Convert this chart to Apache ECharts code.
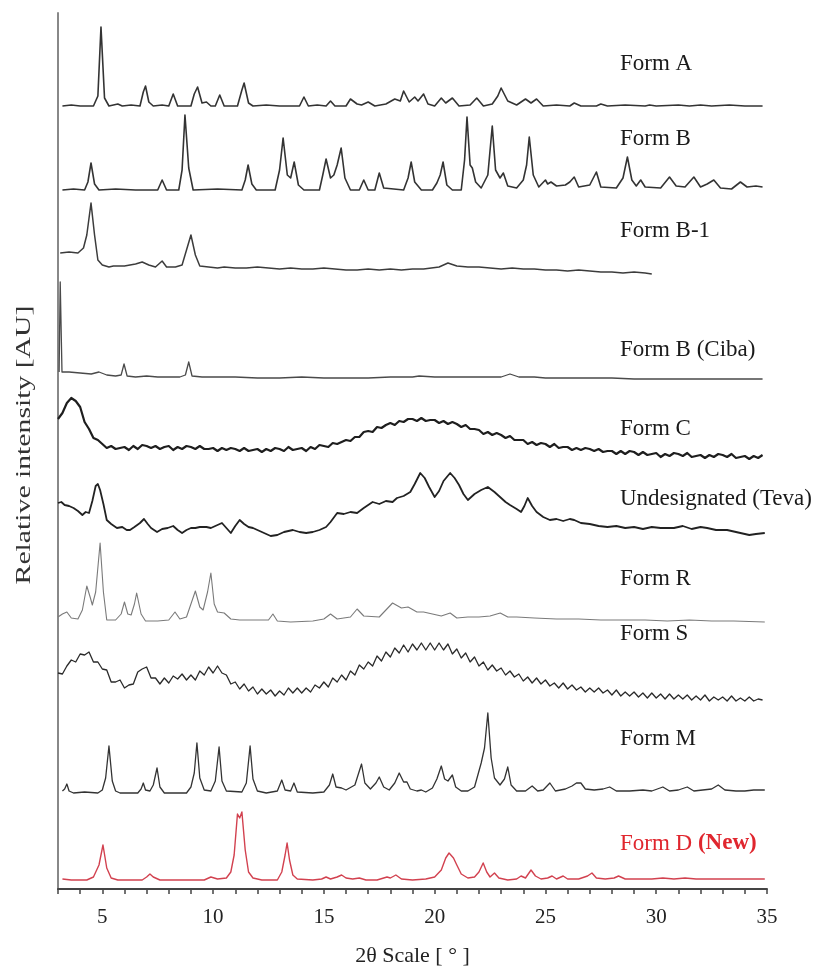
<!DOCTYPE html>
<html>
<head>
<meta charset="utf-8">
<script src="https://cdn.jsdelivr.net/npm/echarts@6/dist/echarts.min.js"></script>
<style>
html,body{margin:0;padding:0;background:#fff;}
#chart{width:817px;height:973px;}
</style>
</head>
<body>
<div id="chart"></div>
<script>
// ---- DATA (2θ in degrees, intensity in relative units above each pattern's baseline) ----
const patternNames = ["Form A","Form B","Form B-1","Form B (Ciba)","Form C","Undesignated (Teva)","Form R","Form S","Form M","Form D (New)"];
const baselineOffsets = [783, 699, 619, 511, 432, 353, 267, 188, 96, 9];
const xTickLabels = [5, 10, 15, 20, 25, 30, 35];

const formA = [[3.2,0],[3.6,1],[4.0,0],[4.6,0],[4.8,10],[4.94,79],[5.1,8],[5.3,0],[5.7,2],[5.9,0],[6.3,1],[6.7,0],[6.85,14],[6.95,20],[7.1,4],[7.3,0],[7.7,1],[8.0,0],[8.2,12],[8.4,0],[9.0,0],[9.15,12],[9.3,19],[9.5,3],[9.7,4],[9.9,0],[10.1,0],[10.3,11],[10.5,0],[11.1,0],[11.3,16],[11.4,23],[11.6,3],[11.8,0],[12.4,1],[13.0,0],[13.9,0],[14.1,9],[14.3,0],[14.7,1],[15.1,0],[15.3,5],[15.5,0],[16.0,0],[16.2,7],[16.5,2],[16.7,1],[17.0,4],[17.3,0],[17.8,2],[18.2,7],[18.45,5],[18.6,15],[18.85,4],[19.1,9],[19.25,5],[19.5,12],[19.7,2],[20.0,0],[20.3,8],[20.5,3],[20.8,8],[21.1,0],[21.6,1],[21.9,8],[22.2,0],[22.6,2],[22.85,10],[23.0,18],[23.3,5],[23.7,1],[24.1,7],[24.35,3],[24.6,7],[24.9,0],[25.5,1],[26.1,0],[26.3,3],[26.6,0],[27.3,0],[27.5,2],[27.8,0],[28.6,1],[29.5,0],[29.7,1],[30.0,0],[31.0,1],[31.5,0],[32.0,1],[32.5,0],[33.3,1],[34.0,0],[34.8,0]];

const formB = [[3.2,0],[3.7,1],[4.2,0],[4.35,8],[4.49,27],[4.65,6],[4.85,0],[5.6,1],[6.5,0],[7.5,0],[7.7,10],[7.9,0],[8.45,0],[8.6,20],[8.73,75],[8.9,22],[9.1,0],[10.2,1],[11.3,0],[11.45,10],[11.58,25],[11.75,6],[11.95,0],[12.8,0],[13.0,20],[13.16,52],[13.35,15],[13.5,12],[13.66,28],[13.85,5],[14.1,0],[14.8,0],[14.95,15],[15.1,31],[15.3,12],[15.45,15],[15.6,25],[15.78,42],[15.95,12],[16.2,0],[16.6,0],[16.8,10],[17.0,0],[17.3,0],[17.5,17],[17.7,2],[18.6,0],[18.8,12],[18.94,28],[19.1,8],[19.4,0],[19.9,0],[20.1,7],[20.25,15],[20.38,28],[20.55,5],[20.8,0],[21.2,0],[21.35,30],[21.46,73],[21.6,25],[21.7,22],[21.85,8],[22.1,2],[22.4,15],[22.6,64],[22.75,20],[22.95,12],[23.1,17],[23.3,4],[23.7,2],[24.0,10],[24.15,25],[24.27,53],[24.45,15],[24.7,3],[25.0,10],[25.1,6],[25.25,8],[25.5,4],[25.9,5],[26.1,8],[26.3,13],[26.5,3],[27.0,5],[27.3,18],[27.5,3],[28.2,2],[28.5,12],[28.7,33],[28.9,10],[29.1,4],[29.3,10],[29.5,3],[30.2,2],[30.6,13],[30.9,4],[31.3,3],[31.7,13],[32.0,3],[32.3,6],[32.6,10],[32.9,2],[33.4,1],[33.8,8],[34.1,3],[34.5,4],[34.8,3]];

const formB1 = [[3.1,17],[3.5,18],[3.9,17],[4.15,22],[4.3,35],[4.49,67],[4.65,35],[4.8,10],[5.0,5],[5.3,3],[5.5,4],[6.0,4],[6.5,6],[6.8,8],[7.1,5],[7.4,3],[7.7,9],[7.9,3],[8.3,3],[8.6,5],[8.8,20],[9.0,35],[9.2,15],[9.4,4],[9.8,3],[10.2,2],[10.5,3],[11.0,2],[11.5,2],[12.0,3],[12.5,2],[13.0,1],[13.5,2],[14.0,1],[14.5,1],[15.0,2],[15.5,1],[16.0,0],[16.5,0],[17.0,1],[17.5,0],[18.0,1],[18.5,0],[19.0,1],[19.5,1],[20.2,3],[20.6,7],[21.0,4],[21.5,3],[22.0,3],[22.5,2],[23.0,1],[23.5,2],[24.0,1],[24.5,1],[25.0,0],[25.5,0],[26.0,-1],[26.5,0],[27.0,-1],[27.5,-2],[28.0,-2],[28.5,-3],[29.0,-2],[29.5,-3],[29.8,-4]];

const formBCiba = [[3.05,6],[3.1,96],[3.18,6],[3.5,6],[4.0,5],[4.5,4],[4.85,6],[5.2,3],[5.6,2],[5.85,3],[5.98,14],[6.12,2],[6.5,1],[7.0,2],[7.5,1],[8.0,1],[8.5,1],[8.75,3],[8.9,16],[9.05,2],[9.5,1],[10.0,1],[11.0,1],[12.0,0],[13.0,0],[14.0,1],[15.0,0],[16.0,0],[17.0,0],[18.0,1],[19.0,1],[19.3,2],[20.0,1],[21.0,1],[22.0,1],[23.0,1],[23.4,4],[23.8,1],[24.5,1],[25.0,0],[26.0,0],[27.0,0],[28.0,0],[29.0,-1],[30.0,-1],[31.0,-1],[32.0,-1],[33.0,-1],[34.0,-1],[34.8,-1]];

// Form C: sampled every 0.2° starting at 3.0°
const formCStart = 3.0, formCStep = 0.2;
const formC = [38,44,54,59,56,50,35,28,19,17, 13,9,11,8,9,10,7,11,8,12, 11,9,11,8,10,11,7,10,8,11, 10,8,11,8,8,9,6,9,7,9, 8,6,9,6,7,8,5,8,6,9, 8,6,10,7,8,9,6,10,8,12, 11,10,14,13,15,17,16,20,20,25, 26,25,30,29,32,34,32,36,35,38, 38,36,39,36,37,37,34,36,33,35, 33,30,32,28,28,27,23,25,22,24, 22,19,21,17,17,17,13,15,12,14, 13,10,13,9,10,10,7,9,7,9, 8,6,8,5,6,6,3,6,3,6, 5,2,5,2,3,4,0,3,1,4, 3,1,4,0,1,2,-1,2,0,3, 2,0,3,-1,0,1,-2,1,-1,2];

const formTeva = [[3.0,33],[3.15,34],[3.3,31],[3.5,30],[3.7,28],[3.9,25],[4.1,21],[4.25,24],[4.4,23],[4.55,35],[4.7,50],[4.8,52],[4.9,46],[5.05,32],[5.2,16],[5.4,12],[5.66,8],[5.9,9],[6.1,6],[6.25,6],[6.45,9],[6.7,13],[6.88,17],[7.05,12],[7.2,8],[7.47,4],[7.7,7],[7.95,8],[8.2,10],[8.4,6],[8.6,3],[8.8,6],[9.0,8],[9.2,8],[9.4,9],[9.7,9],[9.9,8],[10.1,10],[10.4,13],[10.6,8],[10.8,3],[11.0,10],[11.2,16],[11.4,12],[11.6,9],[11.8,8],[12.1,5],[12.4,2],[12.6,0],[12.9,1],[13.2,4],[13.6,6],[13.9,4],[14.2,3],[14.5,4],[14.8,6],[15.1,9],[15.3,14],[15.5,20],[15.6,23],[15.9,22],[16.2,24],[16.5,23],[16.8,28],[17.0,31],[17.2,34],[17.5,32],[17.8,35],[18.1,34],[18.3,38],[18.6,40],[18.9,44],[19.1,52],[19.35,63],[19.55,58],[19.75,49],[20.0,39],[20.2,45],[20.4,55],[20.7,63],[20.9,58],[21.1,51],[21.3,42],[21.5,36],[21.8,42],[22.1,46],[22.4,49],[22.7,44],[22.9,40],[23.2,34],[23.4,31],[23.7,27],[23.9,24],[24.05,30],[24.2,38],[24.4,30],[24.6,24],[24.9,19],[25.2,16],[25.5,17],[25.8,15],[26.1,17],[26.3,16],[26.6,13],[27.0,12],[27.4,10],[27.8,9],[28.2,10],[28.6,8],[29.0,9],[29.4,7],[29.8,9],[30.2,8],[30.8,8],[31.2,10],[31.6,7],[32.0,9],[32.3,8],[32.7,6],[33.2,6],[33.6,4],[34.0,2],[34.2,1],[34.5,2],[34.9,3]];

const formR = [[3.0,5],[3.2,8],[3.4,10],[3.6,4],[3.9,3],[4.1,12],[4.3,36],[4.45,25],[4.55,17],[4.7,30],[4.9,79],[5.05,30],[5.2,2],[5.6,2],[5.85,8],[6.0,20],[6.15,8],[6.3,7],[6.45,18],[6.55,29],[6.75,8],[6.95,1],[7.5,1],[8.0,2],[8.28,10],[8.5,3],[8.8,5],[9.0,18],[9.2,31],[9.4,15],[9.55,12],[9.75,30],[9.9,49],[10.05,18],[10.2,10],[10.5,9],[10.8,3],[11.2,2],[12.0,2],[12.5,2],[12.7,8],[12.9,1],[13.5,0],[14.5,1],[15.0,3],[15.3,8],[15.6,3],[16.2,5],[16.5,13],[16.8,6],[17.5,5],[18.1,19],[18.5,14],[18.8,15],[19.2,10],[19.5,10],[19.9,8],[20.3,6],[20.7,9],[21.0,4],[21.5,5],[22.0,5],[22.5,6],[22.96,9],[23.3,5],[23.7,5],[24.5,4],[25.5,3],[26.5,3],[27.5,2],[28.5,2],[29.5,2],[30.5,1],[31.5,2],[32.5,1],[33.5,1],[34.9,0]];

// Form S: sampled every 0.2° starting at 3.0°
const formSStart = 3.0, formSStep = 0.2;
const formS = [28,27,35,41,39,47,46,49,39,39, 32,31,19,19,21,13,16,17,29,32, 34,23,23,17,23,18,25,22,27,21, 26,21,30,26,34,28,35,28,26,17, 19,12,17,10,14,7,12,7,11,5, 10,6,13,8,13,8,13,9,16,13, 19,14,23,19,26,21,30,26,36,32, 39,35,45,40,49,44,53,48,56,49, 57,51,58,51,58,51,58,51,57,47, 52,43,48,39,44,35,39,31,36,30, 33,26,30,24,27,20,24,18,23,17, 21,15,18,13,18,12,16,11,14,9, 13,9,13,8,11,6,11,5,9,5, 9,4,8,3,8,3,7,2,7,2, 6,2,6,1,5,1,6,0,4,1, 4,0,5,0,3,0,4,0,2,1];

const formM = [[3.2,2],[3.3,4],[3.4,9],[3.5,2],[3.7,0],[4.2,1],[4.8,0],[5.0,3],[5.15,15],[5.3,47],[5.45,12],[5.6,2],[5.8,0],[6.6,0],[6.75,4],[6.85,10],[6.95,3],[7.15,2],[7.3,8],[7.47,25],[7.6,6],[7.8,0],[8.8,0],[9.0,6],[9.15,20],[9.27,50],[9.4,15],[9.6,3],[9.9,2],[10.1,12],[10.27,46],[10.4,12],[10.6,2],[11.3,1],[11.5,10],[11.67,47],[11.8,14],[12.0,2],[12.4,0],[12.9,2],[13.1,13],[13.25,3],[13.5,2],[13.65,10],[13.8,1],[14.5,0],[15.0,1],[15.25,8],[15.4,19],[15.55,6],[15.8,5],[16.0,3],[16.4,8],[16.7,29],[16.85,10],[17.1,4],[17.35,10],[17.5,16],[17.7,6],[17.95,3],[18.2,10],[18.4,20],[18.6,11],[18.75,11],[18.9,4],[19.2,2],[19.4,3],[19.6,1],[19.9,5],[20.1,14],[20.3,27],[20.45,14],[20.6,12],[20.8,18],[20.95,6],[21.2,2],[21.5,2],[21.8,6],[22.1,30],[22.25,45],[22.4,80],[22.55,35],[22.7,15],[22.95,8],[23.15,14],[23.3,26],[23.45,8],[23.7,2],[24.1,2],[24.4,7],[24.65,2],[24.9,3],[25.2,10],[25.45,2],[25.9,4],[26.2,7],[26.4,10],[26.6,10],[26.8,4],[27.2,3],[27.6,4],[27.9,6],[28.2,2],[28.8,2],[29.4,3],[29.8,2],[30.3,6],[30.6,2],[31.0,3],[31.4,6],[31.7,2],[32.1,3],[32.5,4],[32.8,8],[33.1,3],[33.6,2],[34.0,2],[34.4,3],[34.9,3]];

const formD = [[3.2,1],[3.6,0],[4.3,0],[4.6,3],[4.85,15],[5.03,35],[5.2,12],[5.4,2],[5.7,0],[6.8,0],[7.0,3],[7.15,6],[7.3,3],[7.6,0],[9.6,0],[9.9,3],[10.2,1],[10.6,2],[10.8,8],[10.95,25],[11.1,66],[11.2,62],[11.3,68],[11.45,30],[11.6,8],[11.8,2],[12.2,0],[12.9,0],[13.1,8],[13.25,25],[13.34,37],[13.45,20],[13.6,5],[13.8,1],[14.5,0],[14.9,1],[15.1,3],[15.3,1],[15.6,3],[15.8,5],[16.0,2],[16.3,1],[16.6,2],[16.9,0],[17.4,0],[17.85,3],[18.0,2],[18.25,5],[18.5,1],[19.0,0],[19.6,1],[20.0,3],[20.3,10],[20.5,22],[20.65,27],[20.85,22],[21.0,15],[21.2,6],[21.5,2],[21.8,3],[22.0,8],[22.19,17],[22.35,8],[22.5,3],[22.7,7],[22.9,2],[23.3,0],[23.7,1],[23.9,4],[24.1,2],[24.35,10],[24.55,4],[24.8,1],[25.1,2],[25.3,4],[25.5,1],[25.8,4],[26.0,1],[26.5,1],[26.9,4],[27.1,7],[27.3,2],[27.7,1],[28.1,2],[28.3,4],[28.6,1],[29.2,1],[29.8,1],[30.3,2],[30.8,1],[31.3,2],[31.8,1],[32.5,1],[33.2,1],[34.0,1],[34.9,1]];

// ---- STYLE / LAYOUT ----
const lineStyles = [
  {color:'#333', width:1.6},
  {color:'#333', width:1.6},
  {color:'#3c3c3c', width:1.5},
  {color:'#4a4a4a', width:1.3},
  {color:'#1e1e1e', width:2.2},
  {color:'#222', width:1.8},
  {color:'#7a7a7a', width:1.1},
  {color:'#2a2a2a', width:1.3},
  {color:'#333', width:1.3},
  {color:'#d2414f', width:1.4}
];
const labelLeft = 620;
const labelCenterY = [65, 140, 232, 351, 430, 500, 580, 635, 740, 845];

function shift(arr, off){ return arr.map(p => [p[0], p[1] + off]); }
function gridSeries(start, step, vals, off){
  return vals.map((v, i) => [Math.round((start + i * step) * 100) / 100, v + off]);
}

const rawPatterns = [
  shift(formA, baselineOffsets[0]),
  shift(formB, baselineOffsets[1]),
  shift(formB1, baselineOffsets[2]),
  shift(formBCiba, baselineOffsets[3]),
  gridSeries(formCStart, formCStep, formC, baselineOffsets[4]),
  shift(formTeva, baselineOffsets[5]),
  shift(formR, baselineOffsets[6]),
  gridSeries(formSStart, formSStep, formS, baselineOffsets[7]),
  shift(formM, baselineOffsets[8]),
  shift(formD, baselineOffsets[9])
];

const series = rawPatterns.map((d, i) => ({
  name: patternNames[i],
  type: 'line',
  data: d,
  showSymbol: false,
  symbol: 'none',
  clip: false,
  lineStyle: {color: lineStyles[i].color, width: lineStyles[i].width, join: 'round'},
  z: 2
}));

const serif = "'Liberation Serif','Times New Roman',serif";
const graphics = patternNames.map((n, i) => {
  if (i === 9) {
    return {
      type: 'text', left: labelLeft, top: labelCenterY[i] - 13, z: 10,
      style: {
        text: '{n|Form D }{b|(New)}',
        rich: {
          n: {fontFamily: serif, fontSize: 23, fill: '#e0262e'},
          b: {fontFamily: serif, fontSize: 23, fontWeight: 'bold', fill: '#e0262e'}
        }
      }
    };
  }
  return {
    type: 'text', left: labelLeft, top: labelCenterY[i] - 13, z: 10,
    style: {text: n, fontFamily: serif, fontSize: 23, fill: '#1a1a1a'}
  };
});
// y-axis title, drawn as rotated text (stretched along its length like the original figure)
graphics.push({
  type: 'text', x: 24, y: 445, rotation: Math.PI / 2, scaleX: 1.35, scaleY: 1, z: 10,
  style: {text: 'Relative intensity [AU]', fontFamily: serif, fontSize: 22, fill: '#333',
          align: 'center', verticalAlign: 'middle'}
});

const chart = echarts.init(document.getElementById('chart'), null, {renderer: 'canvas'});
chart.setOption({
  animation: false,
  backgroundColor: '#fff',
  grid: {left: 58, right: 50, top: 13, bottom: 84, containLabel: false},
  xAxis: {
    type: 'value', min: 3, max: 35, interval: 1,
    name: '2θ Scale [ ° ]', nameLocation: 'middle', nameGap: 56,
    nameTextStyle: {fontFamily: serif, fontSize: 22, color: '#222'},
    axisLine: {show: true, onZero: false, lineStyle: {color: '#444', width: 2}},
    axisTick: {show: true, length: 5, inside: false, lineStyle: {color: '#444', width: 1.5}},
    axisLabel: {
      margin: 18, fontFamily: serif, fontSize: 21, color: '#222',
      formatter: v => (xTickLabels.indexOf(v) >= 0 ? String(v) : '')
    },
    splitLine: {show: false}
  },
  yAxis: {
    type: 'value', min: 0, max: 876,
    axisLine: {show: true, onZero: false, lineStyle: {color: '#888', width: 2}},
    axisTick: {show: false},
    axisLabel: {show: false},
    splitLine: {show: false}
  },
  series: series,
  graphic: graphics
});
</script>
</body>
</html>
